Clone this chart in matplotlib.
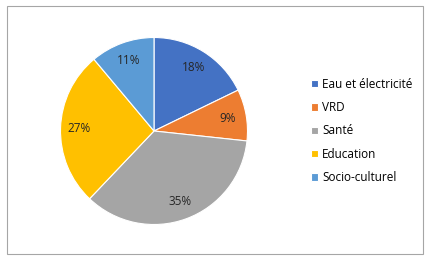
import matplotlib
matplotlib.use("Agg")
import matplotlib.pyplot as plt
from matplotlib.patches import Rectangle

# data
categories = ["Eau et électricité", "VRD", "Santé", "Education", "Socio-culturel"]
shares = [17.8, 8.9, 35.4, 26.8, 11.1]
colors = ["#4472C4", "#ED7D31", "#A5A5A5", "#FFC000", "#5B9BD5"]

plt.rcParams['font.family'] = ['Open Sans', 'DejaVu Sans']

W, H = 447, 260
fig = plt.figure(figsize=(W / 100, H / 100), dpi=100)

# pie axes: centre (154, 131), radius ~93.5 px
cx, cy, r = 154, 131, 93.5
ax = fig.add_axes([(cx - r) / W, (H - cy - r) / H, 2 * r / W, 2 * r / H])
wedges, texts, autotexts = ax.pie(
    shares, colors=colors, startangle=90, counterclock=False,
    autopct='%1.0f%%', pctdistance=0.8,
    wedgeprops=dict(edgecolor='white', linewidth=0.8),
    textprops=dict(fontsize=8.5, color='#262626'))
ax.set_xlim(-1, 1)
ax.set_ylim(-1, 1)
ax.set_aspect('equal')

# legend
fig.legend(wedges, categories, loc='center left',
           bbox_to_anchor=(306 / W, (H - 131) / H),
           frameon=False, fontsize=8.5, handlelength=0.6, handleheight=0.6,
           handletextpad=0.35, labelspacing=0.88, borderaxespad=0)

# outer border
fig.patches.append(Rectangle((7 / W, 6 / H), 416 / W, 248 / H,
                             transform=fig.transFigure, fill=False,
                             edgecolor='#a6a6a6', linewidth=0.8))

fig.savefig("out.png", dpi=100)
